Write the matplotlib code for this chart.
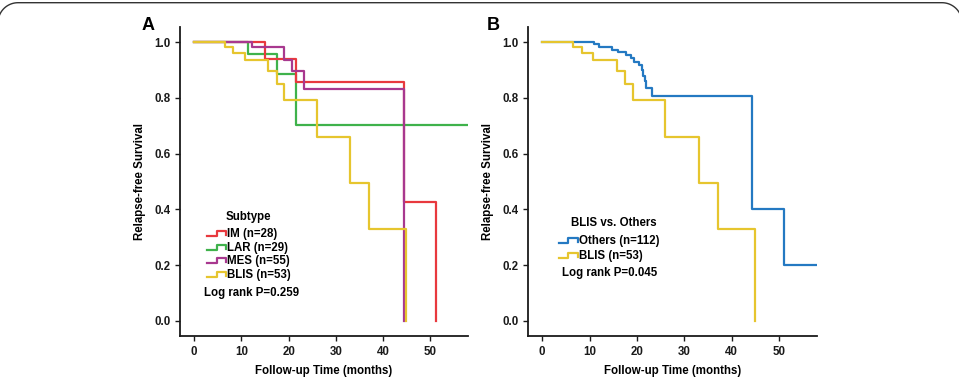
import numpy as np
import matplotlib
matplotlib.use("Agg")
import matplotlib.pyplot as plt
from matplotlib.lines import Line2D
from matplotlib.transforms import IdentityTransform

plt.rcParams['font.family'] = ['Liberation Sans', 'DejaVu Sans']
plt.rcParams['font.weight'] = 'bold'

# Panel A: subtypes (time in months, survival after each drop)
im_t = [0, 15.0, 21.5, 44.5, 51.3]
im_s = [1.0, 0.94, 0.856, 0.428, 0.0]

lar_t = [0, 11.3, 17.5, 21.5, 58]
lar_s = [1.0, 0.958, 0.886, 0.704, 0.704]

mes_t = [0, 12.2, 19.1, 20.8, 23.2, 44.4]
mes_s = [1.0, 0.982, 0.937, 0.896, 0.832, 0.0]

blis_t = [0, 6.6, 8.3, 10.7, 15.7, 17.5, 19.1, 26.0, 33.0, 37.1, 44.9]
blis_s = [1.0, 0.982, 0.96, 0.937, 0.898, 0.85, 0.794, 0.661, 0.495, 0.33, 0.0]

# Panel B: others vs BLIS
oth_t = [0, 11.0, 11.9, 14.8, 16.0, 17.7, 18.7, 19.4, 20.5, 21.0, 21.3, 21.6, 22.0, 23.2, 44.2, 51.1, 58]
oth_s = [1.0, 0.992, 0.982, 0.972, 0.964, 0.952, 0.944, 0.928, 0.916, 0.90, 0.88, 0.862, 0.835, 0.806, 0.402, 0.2, 0.2]

labels_a = ['IM (n=28)', 'LAR (n=29)', 'MES (n=55)', 'BLIS (n=53)']
labels_b = ['Others (n=112)', 'BLIS (n=53)']
p_a = 'Log rank P=0.259'
p_b = 'Log rank P=0.045'

red = '#e8393e'
green = '#3fb24b'
purple = '#a8388f'
yellow = '#e6c52e'
blue = '#2479c2'

fig = plt.figure(figsize=(9.59, 3.8), dpi=100)
W, H = 959.0, 380.0

# rounded frame line across the top of the image (pixel coords)
r = 20
top = 377.3
a1 = np.linspace(np.pi, np.pi / 2, 20)
a2 = np.linspace(np.pi / 2, 0, 20)
fx = np.concatenate([18 + r * np.cos(a1), 942 + r * np.cos(a2)])
fy = np.concatenate([top - r + r * np.sin(a1), top - r + r * np.sin(a2)])
fig.lines.append(Line2D(fx, fy, color='#333333', lw=1.0, transform=IdentityTransform()))

ax_a = fig.add_axes([180 / W, 44 / H, 288 / W, 309 / H])
ax_b = fig.add_axes([528 / W, 44 / H, 289 / W, 309 / H])

fs = 8.3


def style(ax):
    ax.set_xlim(-3, 58)
    ax.set_ylim(-0.054, 1.054)
    ax.set_xticks(range(0, 60, 10))
    ax.set_yticks([0.0, 0.2, 0.4, 0.6, 0.8, 1.0])
    ax.set_yticklabels(['%.1f' % v for v in [0.0, 0.2, 0.4, 0.6, 0.8, 1.0]])
    for s in ['top', 'right']:
        ax.spines[s].set_visible(False)
    for s in ['left', 'bottom']:
        ax.spines[s].set_linewidth(1.3)
        ax.spines[s].set_color('#1a1a1a')
    ax.tick_params(direction='out', length=3.5, width=1, labelsize=fs, colors='#1a1a1a')
    for lab in ax.get_xticklabels() + ax.get_yticklabels():
        lab.set_fontweight('bold')
    ax.set_xlabel('Follow-up Time (months)', fontsize=fs, fontweight='bold', labelpad=5)
    ax.set_ylabel('Relapse-free Survival', fontsize=fs, fontweight='bold', labelpad=6)


def step_handle(ax, x0, x1, y, color):
    xm = x0 + (x1 - x0) * 0.5
    ax.plot([x0, xm, xm, x1, x1], [y - 0.007, y - 0.007, y + 0.009, y + 0.009, y - 0.004],
            color=color, lw=1.6, transform=ax.transAxes, clip_on=False)


lw = 1.6
# Panel A
for t, s, c in [(lar_t, lar_s, green), (im_t, im_s, red), (mes_t, mes_s, purple), (blis_t, blis_s, yellow)]:
    ax_a.step(t, s, where='post', color=c, lw=lw)
style(ax_a)

ax_a.text(0.236, 0.385, 'Subtype', transform=ax_a.transAxes, ha='center', va='center',
          fontsize=fs, fontweight='bold')
ys_a = [0.330, 0.285, 0.243, 0.197]
for lab, c, y in zip(labels_a, [red, green, purple, yellow], ys_a):
    step_handle(ax_a, 0.094, 0.160, y, c)
    ax_a.text(0.163, y, lab, transform=ax_a.transAxes, ha='left', va='center',
              fontsize=fs, fontweight='bold')
ax_a.text(0.083, 0.139, p_a, transform=ax_a.transAxes, ha='left', va='center',
          fontsize=fs, fontweight='bold')

# Panel B
for t, s, c in [(oth_t, oth_s, blue), (blis_t, blis_s, yellow)]:
    ax_b.step(t, s, where='post', color=c, lw=lw)
style(ax_b)

ax_b.text(0.297, 0.366, 'BLIS vs. Others', transform=ax_b.transAxes, ha='center', va='center',
          fontsize=fs, fontweight='bold')
ys_b = [0.307, 0.259]
for lab, c, y in zip(labels_b, [blue, yellow], ys_b):
    step_handle(ax_b, 0.107, 0.173, y, c)
    ax_b.text(0.176, y, lab, transform=ax_b.transAxes, ha='left', va='center',
              fontsize=fs, fontweight='bold')
ax_b.text(0.118, 0.204, p_b, transform=ax_b.transAxes, ha='left', va='center',
          fontsize=fs, fontweight='bold')

# panel letters
fig.text(142 / W, 1 - 30 / H, 'A', fontsize=13, fontweight='bold', ha='left', va='baseline')
fig.text(487 / W, 1 - 30 / H, 'B', fontsize=13, fontweight='bold', ha='left', va='baseline')

fig.savefig('out.png', dpi=100)
